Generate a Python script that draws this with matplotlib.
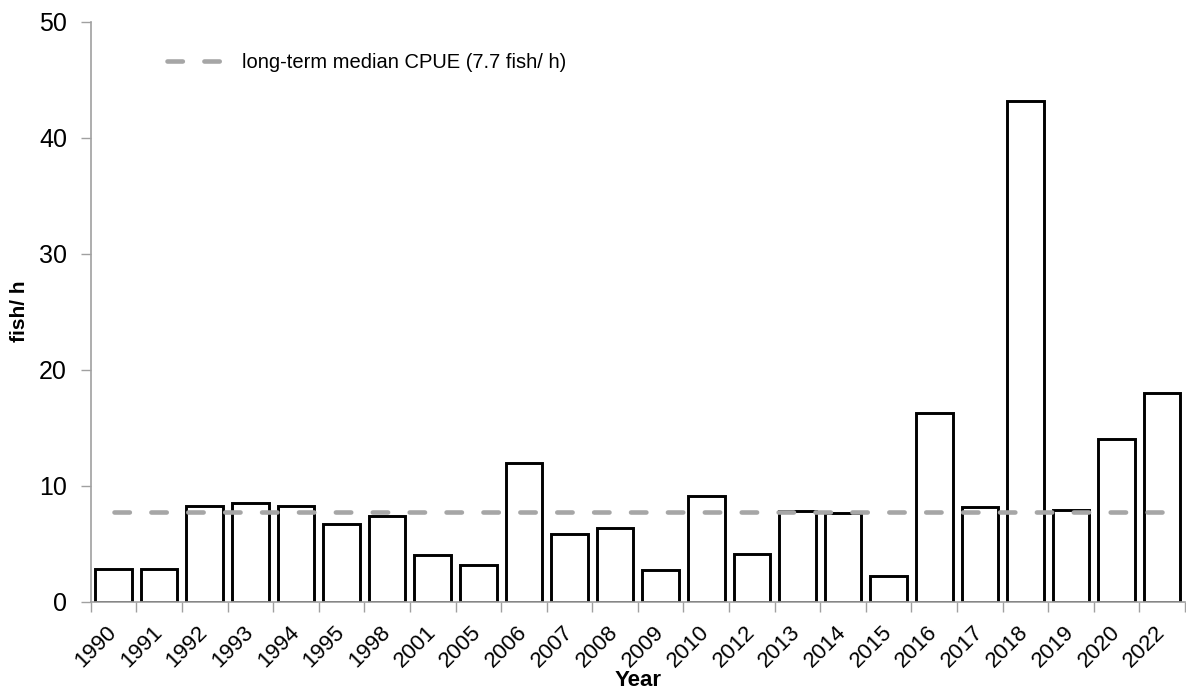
import matplotlib
matplotlib.use("Agg")
import matplotlib.pyplot as plt
import numpy as np

years = ["1990", "1991", "1992", "1993", "1994", "1995", "1998", "2001", "2005",
         "2006", "2007", "2008", "2009", "2010", "2012", "2013", "2014", "2015",
         "2016", "2017", "2018", "2019", "2020", "2022"]
cpue = [2.78, 2.8, 8.23, 8.55, 8.23, 6.72, 7.37, 4.03, 3.2,
        12.0, 5.86, 6.33, 2.75, 9.15, 4.15, 7.78, 7.68, 2.2,
        16.3, 8.2, 43.2, 7.93, 14.05, 17.95]
median_cpue = 7.7
legend_label = "long-term median CPUE (7.7 fish/ h)"
y_ticks = [0, 10, 20, 30, 40, 50]

plt.rcParams['font.family'] = ["Liberation Sans", "DejaVu Sans"]

fig = plt.figure(figsize=(11.86, 6.94), dpi=100)
ax = fig.add_axes([0.0765, 0.133, 0.9227, 0.8357])

x = np.arange(len(years))
ax.bar(x, cpue, width=0.8, color="white", edgecolor="black", linewidth=2.1, zorder=2)
ax.plot([x[0], x[-1]], [median_cpue, median_cpue], color="#A6A6A6", linewidth=3.3,
        dashes=(3.35, 4.7), dash_capstyle="round", zorder=3, label=legend_label)

ax.set_xlim(-0.5, len(years) - 0.5)
ax.set_ylim(0, 50)
ax.set_yticks(y_ticks)
ax.tick_params(axis="y", direction="out", length=7, width=1, color="#A0A0A0",
               labelsize=18, pad=10)

ax.set_xticks(np.arange(len(years) + 1) - 0.5)
ax.set_xticklabels([])
ax.tick_params(axis="x", which="major", direction="out", length=7, width=1, color="#A0A0A0")
ax.set_xticks(x, minor=True)
ax.set_xticklabels(years, minor=True, rotation=45, ha="right", va="center",
                   rotation_mode="anchor", fontsize=16)
ax.tick_params(axis="x", which="minor", length=0, pad=20)

for s in ["top", "right"]:
    ax.spines[s].set_visible(False)
for s in ["left", "bottom"]:
    ax.spines[s].set_color("#A0A0A0")
    ax.spines[s].set_linewidth(1.2)

ax.set_ylabel("fish/ h", fontsize=15, fontweight="bold", va="center")
ax.yaxis.set_label_coords(-0.0655, 0.5)
ax.set_xlabel("Year", fontsize=16, fontweight="bold", va="center")
ax.xaxis.set_label_coords(0.5, -0.136)

ax.legend(loc="center left", bbox_to_anchor=(0.07, 0.929), frameon=False,
          fontsize=14.5, handlelength=3.0, handletextpad=0.7, borderpad=0,
          borderaxespad=0)

fig.savefig("out.png", dpi=100)
